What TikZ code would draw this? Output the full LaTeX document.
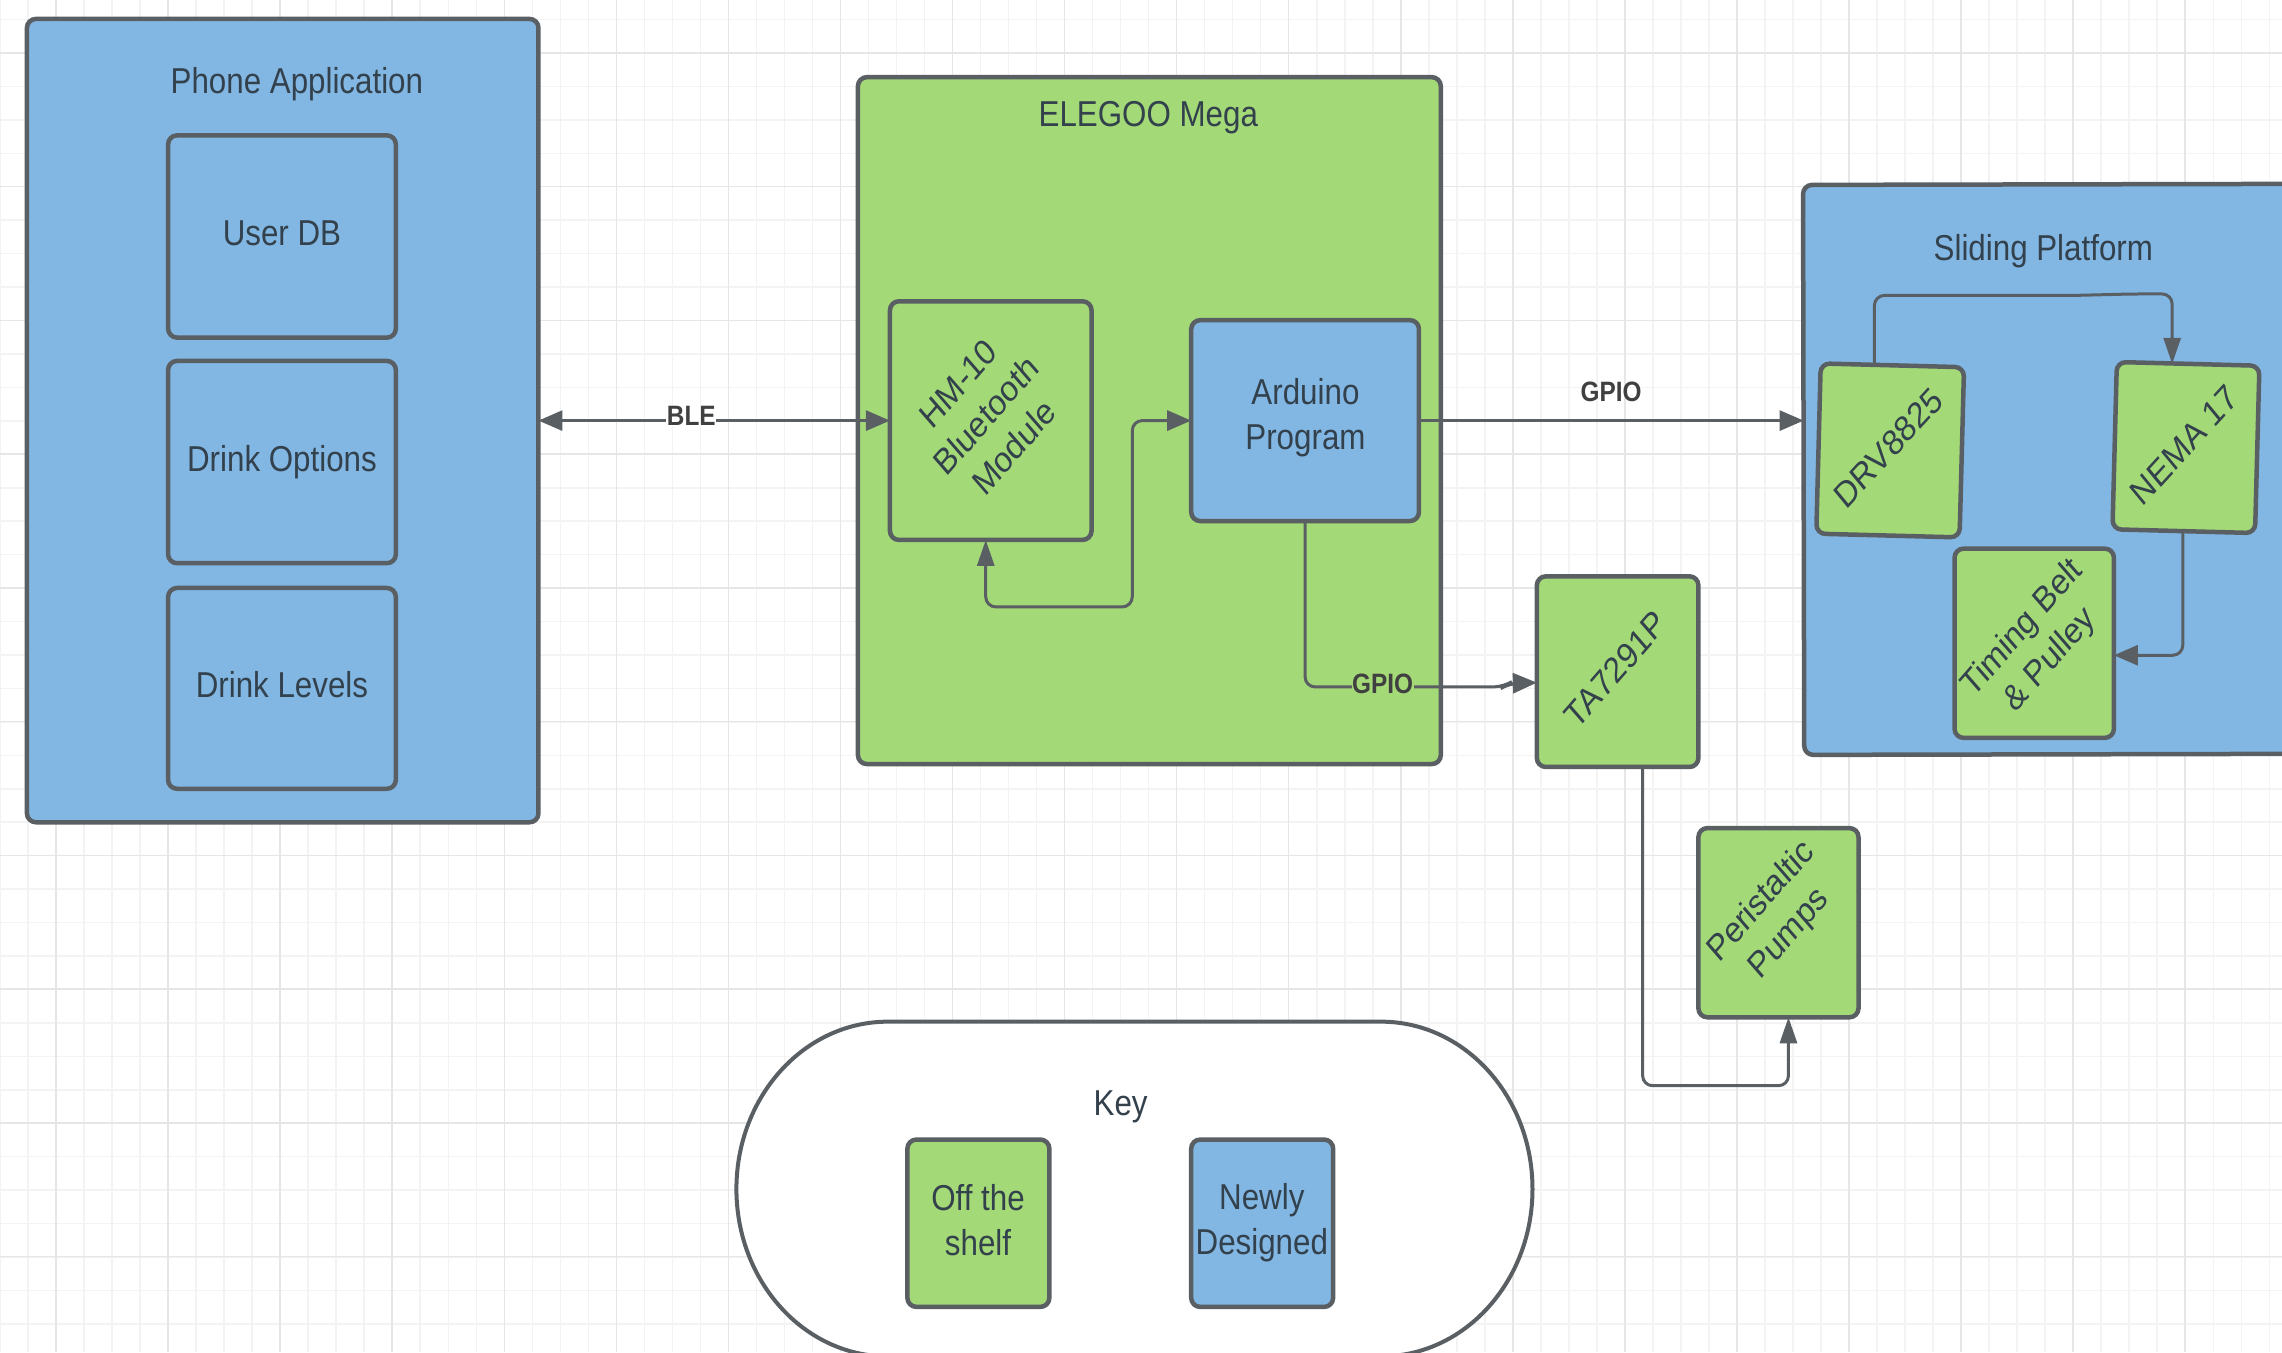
\documentclass[tikz,border=0pt]{standalone}
\usepackage{fontspec}
\usepackage{graphicx}
\setmainfont{Liberation Sans}
\usetikzlibrary{arrows.meta,calc}
\definecolor{blu}{HTML}{82B7E3}
\definecolor{grn}{HTML}{A3D977}
\definecolor{edge}{HTML}{5A5F64}
\definecolor{txt}{HTML}{33414D}
\definecolor{gridmin}{HTML}{F3F3F3}
\definecolor{gridmaj}{HTML}{E6E6E6}
\newcommand{\hs}[1]{\scalebox{.87}[1]{\begin{tabular}{@{}c@{}}#1\end{tabular}}}
\newcommand{\rs}[1]{\scalebox{.87}[1]{\rotatebox{45}{\begin{tabular}{@{}c@{}}#1\end{tabular}}}}
\newcommand{\bx}[7]{\pgfmathsetmacro\wid{(#5-#3)*1.4554}\pgfmathsetmacro\hei{(#6-#4)*1.4554}%
  \node[#1,minimum width=\wid pt,minimum height=\hei pt] (#2) at ({(#3+#5)/2},{(#4+#6)/2}) {#7};}
\tikzset{
  vtip/.tip={Triangle[length=26pt,width=17pt]},
  htip/.tip={Triangle[length=24pt,width=20pt]},
  base/.style={draw=edge,rounded corners=9pt,inner sep=0pt,outer sep=0pt,text=txt,font=\fontsize{36}{45}\selectfont},
  outerblue/.style={base,fill=blu,line width=4.5pt},
  outergreen/.style={base,fill=grn,line width=4.5pt},
  innerblue/.style={base,fill=blu,line width=4.5pt},
  innergreen/.style={base,fill=grn,line width=4.5pt},
  tiltgreen/.style={innergreen,rotate=-1.5},
  title/.style={text=txt,inner sep=0pt,font=\fontsize{36}{45}\selectfont},
  edgelab/.style={text=black!75,inner sep=0.5pt,font=\fontsize{28}{34}\selectfont\bfseries},
  conn/.style={draw=edge,line width=3pt,rounded corners=10pt},
  keyline/.style={draw=edge,line width=4pt,fill=white},
}
\begin{document}
\begin{tikzpicture}[x=1.4554pt,y=-1.4554pt]
\useasboundingbox (0,0) rectangle (1568,929);
\fill[white] (0,0) rectangle (1568,929);
% grid
\foreach \i in {-2,...,80} {
  \draw[gridmin,line width=1.5pt] ({38.5+19.25*\i},0) -- ({38.5+19.25*\i},929);
}
\foreach \j in {-1,...,40} {
  \draw[gridmin,line width=1.5pt] (0,{36.4+22.98*\j}) -- (1568,{36.4+22.98*\j});
}
\foreach \i in {0,...,20} {
  \draw[gridmaj,line width=1.5pt] ({38.5+77*\i},0) -- ({38.5+77*\i},929);
}
\foreach \j in {0,...,10} {
  \draw[gridmaj,line width=1.5pt] (0,{36.4+91.9*\j}) -- (1568,{36.4+91.9*\j});
}
% Containers
\bx{outerblue}{phone}{18.5}{13}{370}{565}{}
\node[title] (phonet) at (204,58) {\hs{Phone Application}};
\bx{innerblue}{userdb}{115.5}{93}{272}{232}{\hs{User DB}}
\bx{innerblue}{options}{115.5}{248}{272}{387}{\hs{Drink Options}}
\bx{innerblue}{levels}{115.5}{404}{272}{542}{\hs{Drink Levels}}
\bx{outergreen}{mega}{589.5}{53}{990}{525}{}
\node[title] (megat) at (789,81) {\hs{ELEGOO Mega}};
\bx{innergreen}{hm}{611.5}{207}{750}{371}{}
\node[title] (hmt) at (679,287) {\rs{HM-10\\Bluetooth\\Module}};
\bx{innerblue}{ard}{818.5}{220}{975}{358}{}
\node[title] (ardt) at (897,287) {\hs{Arduino\\Program}};
\bx{innergreen}{ta}{1056}{396}{1167}{527}{}
\node[title] (tat) at (ta.center) {\rs{TA7291P}};
\bx{innergreen}{peri}{1167}{569}{1277}{699}{}
\node[title] (perit) at (1220,631) {\rs{Peristaltic\\Pumps}};
\node[base,fill=blu,line width=4.5pt,rotate=0.12,minimum width=526pt,minimum height=570pt] (slide) at (1420,322.5) {};
\node[title] (slidet) at (1404,173) {\hs{Sliding Platform}};
\bx{tiltgreen}{drv}{1249.5}{251}{1348}{368}{}
\node[title,rotate=-1.5] (drvt) at (drv.center) {\rs{DRV8825}};
\bx{tiltgreen}{nema}{1453}{250}{1551}{365}{}
\node[title,rotate=-1.5] (nemat) at (nema.center) {\rs{NEMA 17}};
\bx{innergreen}{tim}{1343}{377}{1452.5}{507}{}
\node[title] (timt) at (1399.5,443) {\rs{Timing Belt\\\& Pulley}};
% Key
\draw[keyline] (610,702) -- (949,702) arc[start angle=-90,end angle=90,x radius=104,y radius=115] -- (610,932) arc[start angle=90,end angle=270,x radius=104,y radius=115] -- cycle;
\node[title] (keyt) at (770,760) {\hs{Key}};
\bx{innergreen}{shelf}{623.5}{783}{721}{898}{}
\node[title] (shelft) at (672,841) {\hs{Off the\\shelf}};
\bx{innerblue}{newly}{818.5}{783}{916}{898}{}
\node[title] (newlyt) at (867,840) {\hs{Newly\\Designed}};
% Connectors
\draw[conn,htip-htip] (phone.east) -- (hm.west);
\node[edgelab,fill=white] (ble) at (475,286) {\scalebox{.87}[1]{BLE}};
\draw[conn,vtip-htip] ([xshift=-5pt]hm.south) |- (778,417) |- (ard.west);
\draw[conn,-htip] (ard.east) -- (slide.west |- ard.east);
\node[edgelab] (gpioa) at (1107,269) {\scalebox{.87}[1]{GPIO}};
\draw[conn,-htip] (ard.south) |- (1033,472) -- (1037,469.5) -- ([yshift=-11pt]ta.west);
\node[edgelab,fill=grn] (gpiob) at (950,470) {\scalebox{.87}[1]{GPIO}};
\draw[conn,-vtip] ([xshift=-18pt]drv.north) |- (1425,203) -- (1465,202) -| ([xshift=-16pt]nema.north);
\draw[conn,-htip] ([xshift=-1pt]nema.south) |- ([yshift=-12pt]tim.east);
\draw[conn,-vtip] ([xshift=25pt]ta.south) |- (1180,746) -| ([xshift=10pt]peri.south);
\end{tikzpicture}
\end{document}
